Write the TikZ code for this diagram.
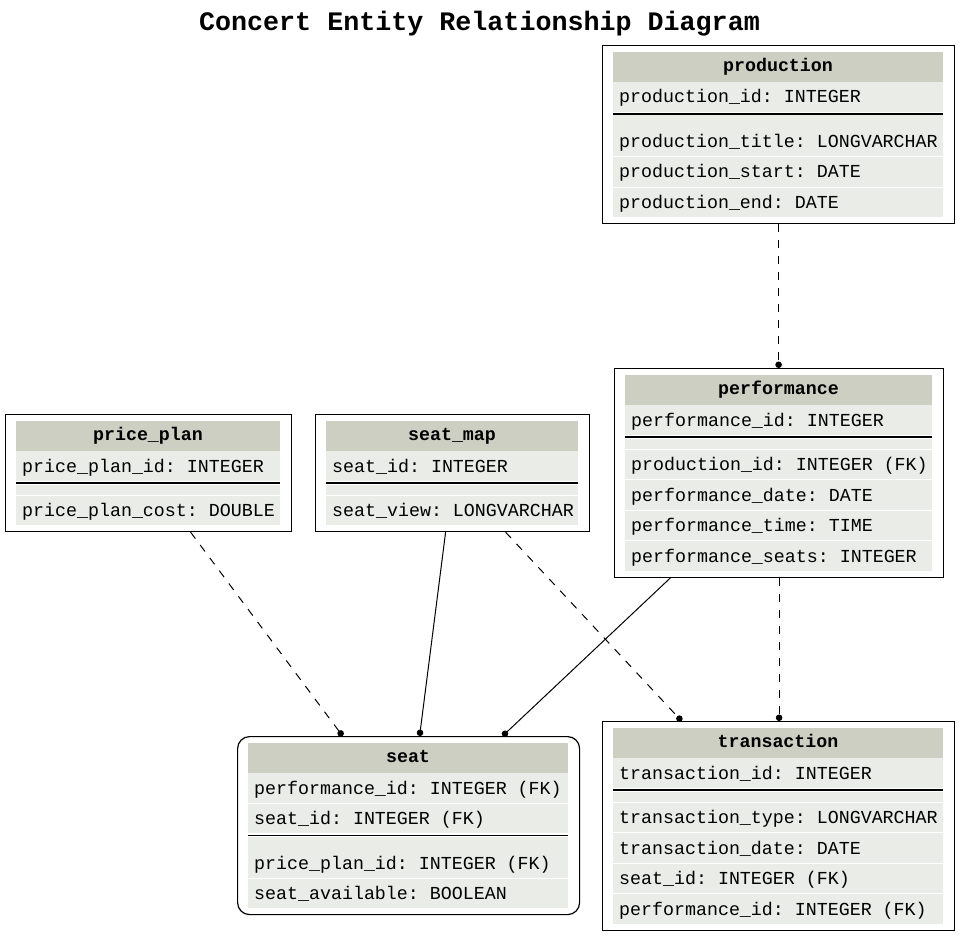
\documentclass[tikz,border=0pt]{standalone}
\usepackage{fontspec}
\setmonofont{Liberation Mono}
\usetikzlibrary{
    arrows.meta,
    calc
}

\definecolor{headgray}{RGB}{205,207,194}
\definecolor{rowgray}{RGB}{234,236,231}

% table: [box options]{name}{x}{y}{width}{title}{keys}{fields}
\newcommand{\ertable}[8][]{%
\begin{scope}[shift={(#3,#4)}]
    \fill[headfill] (0,0) rectangle (#5,30);
    \node[headtext] at (#5/2,19.5) {#6};
    \foreach \f [count=\i from 0] in {#7}{
        \fill[rowfill] (0,30+30.5*\i) rectangle (#5,59.8+30.5*\i);
        \node[fieldtext] at (6,51+30.5*\i) {\f};
        \xdef\nkeys{\i}
    }
    \pgfmathsetmacro\ksep{30+30.5*(\nkeys+1)}
    \draw[line width=1.2pt] (0,\ksep+1.5) -- (#5,\ksep+1.5);
    \fill[rowfill] (0,\ksep+3) rectangle (#5,\ksep+13.5);
    \foreach \f [count=\i from 0] in {#8}{
        \fill[rowfill] (0,\ksep+14+30.5*\i) rectangle (#5,\ksep+43.8+30.5*\i);
        \node[fieldtext] at (6,\ksep+35+30.5*\i) {\f};
        \xdef\nrest{\i}
    }
    \node[tablebox,#1,anchor=north west,
          minimum width=#5+22,
          minimum height=56+30.5*(\nkeys+\nrest+2)] (#2) at (-11,-7) {};
\end{scope}}

\begin{document}
\begin{tikzpicture}[x=1pt,y=-1pt,
    headfill/.style={fill=headgray},
    rowfill/.style={fill=rowgray},
    headtext/.style={anchor=base,inner sep=0pt,
        font=\ttfamily\bfseries\fontsize{18.3}{22}\selectfont},
    fieldtext/.style={anchor=base west,inner sep=0pt,
        font=\ttfamily\fontsize{18.3}{22}\selectfont},
    tablebox/.style={draw,line width=1.2pt,inner sep=0pt},
    link/.style={line width=1pt,-{Circle[length=6.5pt]}},
    dashlink/.style={link,dash pattern=on 8pt off 8pt}]

\useasboundingbox (0,0) rectangle (960,936);

\node[anchor=base,inner sep=0pt,
      font=\ttfamily\bfseries\fontsize{26.7}{30}\selectfont] (title)
    at (479.5,31) {Concert Entity Relationship Diagram};

% production
\ertable{production}{613}{52}{330}{production}
    {production\_id: INTEGER}
    {production\_title: LONGVARCHAR,production\_start: DATE,production\_end: DATE}

% performance
\ertable{performance}{625}{375}{307}{performance}
    {performance\_id: INTEGER}
    {production\_id: INTEGER (FK),performance\_date: DATE,
     performance\_time: TIME,performance\_seats: INTEGER}

% price_plan
\ertable{priceplan}{16}{421}{264}{price\_plan}
    {price\_plan\_id: INTEGER}
    {price\_plan\_cost: DOUBLE}

% seat_map
\ertable{seatmap}{326}{421}{252}{seat\_map}
    {seat\_id: INTEGER}
    {seat\_view: LONGVARCHAR}

% seat
\ertable[rounded corners=12pt]{seat}{248}{743}{320}{seat}
    {performance\_id: INTEGER (FK),seat\_id: INTEGER (FK)}
    {price\_plan\_id: INTEGER (FK),seat\_available: BOOLEAN}

% transaction
\ertable{transaction}{613}{728}{330}{transaction}
    {transaction\_id: INTEGER}
    {transaction\_type: LONGVARCHAR,transaction\_date: DATE,
     seat\_id: INTEGER (FK),performance\_id: INTEGER (FK)}

% Links
\draw[dashlink] (production.south) -- (production.south |- performance.north);
\draw[dashlink] ([xshift=42pt]priceplan.south) -- ([xshift=-66pt]seat.north);
\draw[link] ([xshift=-7pt]seatmap.south) -- ([xshift=11pt]seat.north);
\draw[dashlink] ([xshift=53pt]seatmap.south) -- ([xshift=-97pt]transaction.north);
\draw[link] ([xshift=-108.5pt]performance.south) -- ([xshift=94pt]seat.north);
\draw[dashlink] (performance.south) -- (performance.south |- transaction.north);

\end{tikzpicture}
\end{document}
